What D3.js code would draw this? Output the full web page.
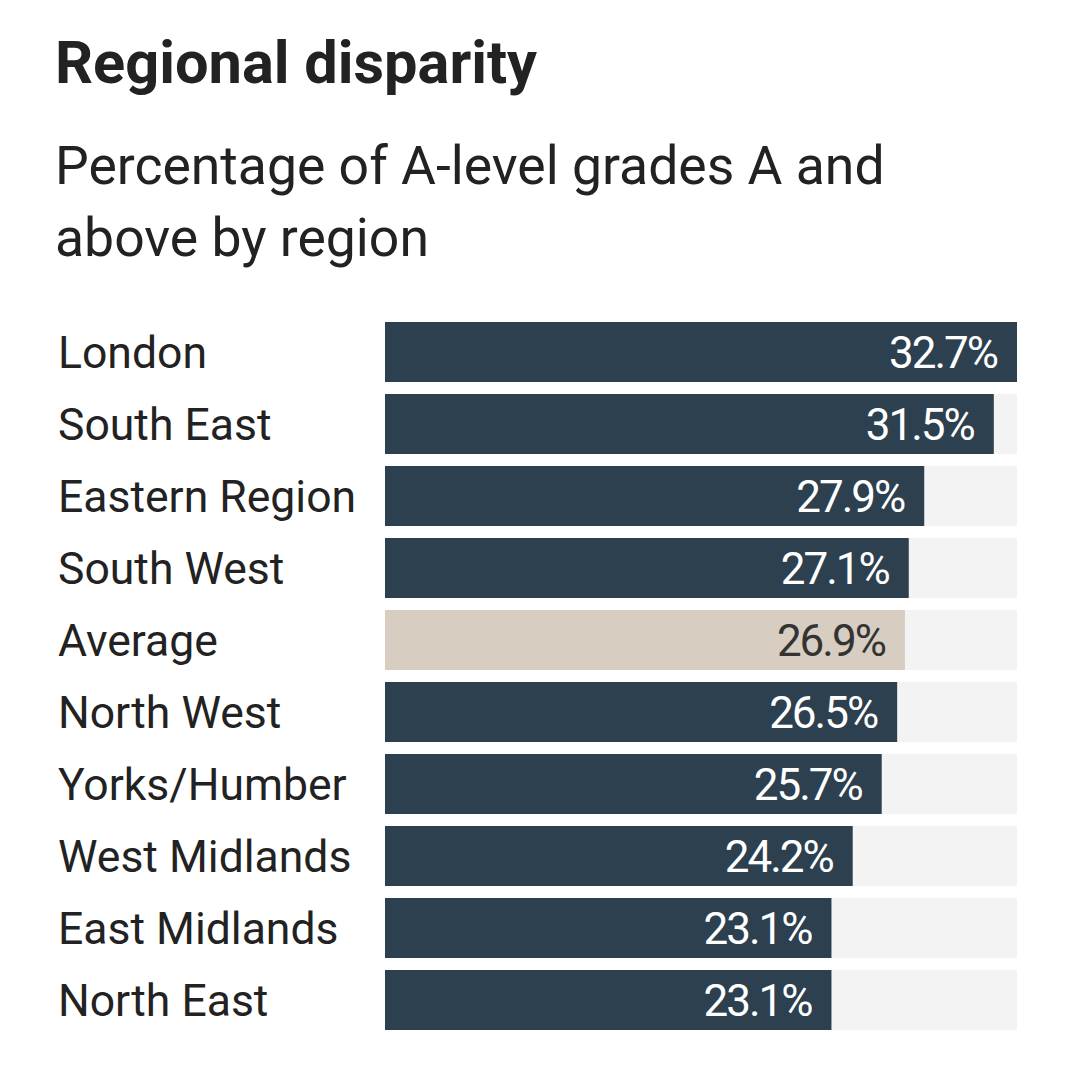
<!DOCTYPE html>
<html>
<head>
<meta charset="utf-8">
<script src="https://cdn.jsdelivr.net/npm/d3@7.9.0/dist/d3.min.js"></script>
<style>
  html, body { margin: 0; padding: 0; background: #fff; }
  svg { display: block; font-family: Roboto, "Noto Sans", sans-serif; }
</style>
</head>
<body>
<div id="chart"></div>
<script>
// ---------- DATA ----------
const regions = ['London', 'South East', 'Eastern Region', 'South West', 'Average',
  'North West', 'Yorks/Humber', 'West Midlands', 'East Midlands', 'North East'];
const values = [32.7, 31.5, 27.9, 27.1, 26.9, 26.5, 25.7, 24.2, 23.1, 23.1];
const highlight = ['Average'];

const title = 'Regional disparity';
const subtitleLines = ['Percentage of A-level grades A and', 'above by region'];

// ---------- LAYOUT ----------
const width = 1079;
const height = 1074;
const barLeft = 385;
const barRight = 1017;
const barTop = 322;
const step = 72;
const gap = 12;

const rows = regions.map((r, i) => ({ region: r, value: values[i] }));

const svg = d3.select('#chart')
  .append('svg')
  .attr('width', width)
  .attr('height', height);

// --- Title
svg.append('text')
  .attr('x', 55)
  .attr('y', 83)
  .attr('font-size', 59.5)
  .attr('font-weight', 700)
  .attr('fill', '#222')
  .text(title);

svg.append('g')
  .selectAll('text')
  .data(subtitleLines)
  .join('text')
  .attr('x', 55)
  .attr('y', (d, i) => 184 + i * 72)
  .attr('font-size', 53.5)
  .attr('fill', '#222')
  .text((d) => d);

// --- Scales
const x = d3.scaleLinear()
  .domain([0, d3.max(values)])
  .range([barLeft, barRight]);

const y = d3.scaleBand()
  .domain(regions)
  .range([barTop, barTop + step * regions.length - gap])
  .paddingInner(gap / step)
  .paddingOuter(0);

const row = svg.append('g')
  .selectAll('g')
  .data(rows)
  .join('g')
  .attr('transform', (d) => `translate(0,${y(d.region)})`);

// background track
row.append('rect')
  .attr('x', barLeft)
  .attr('width', barRight - barLeft)
  .attr('height', y.bandwidth())
  .attr('fill', '#f3f3f3');

// bar
row.append('rect')
  .attr('x', barLeft)
  .attr('width', (d) => x(d.value) - barLeft)
  .attr('height', y.bandwidth())
  .attr('fill', (d) => highlight.includes(d.region) ? '#d7cdc1' : '#2c4050');

// region label
row.append('text')
  .attr('x', 58)
  .attr('y', y.bandwidth() / 2 + 16)
  .attr('font-size', 44.5)
  .attr('fill', '#222')
  .text((d) => d.region);

// value label
row.append('text')
  .attr('x', (d) => x(d.value) - 20)
  .attr('y', y.bandwidth() / 2 + 16)
  .attr('text-anchor', 'end')
  .attr('font-size', 44)
  .attr('letter-spacing', -2)
  .attr('fill', (d) => highlight.includes(d.region) ? '#333' : '#fff')
  .text((d) => d.value.toFixed(1) + '%');
</script>
</body>
</html>
